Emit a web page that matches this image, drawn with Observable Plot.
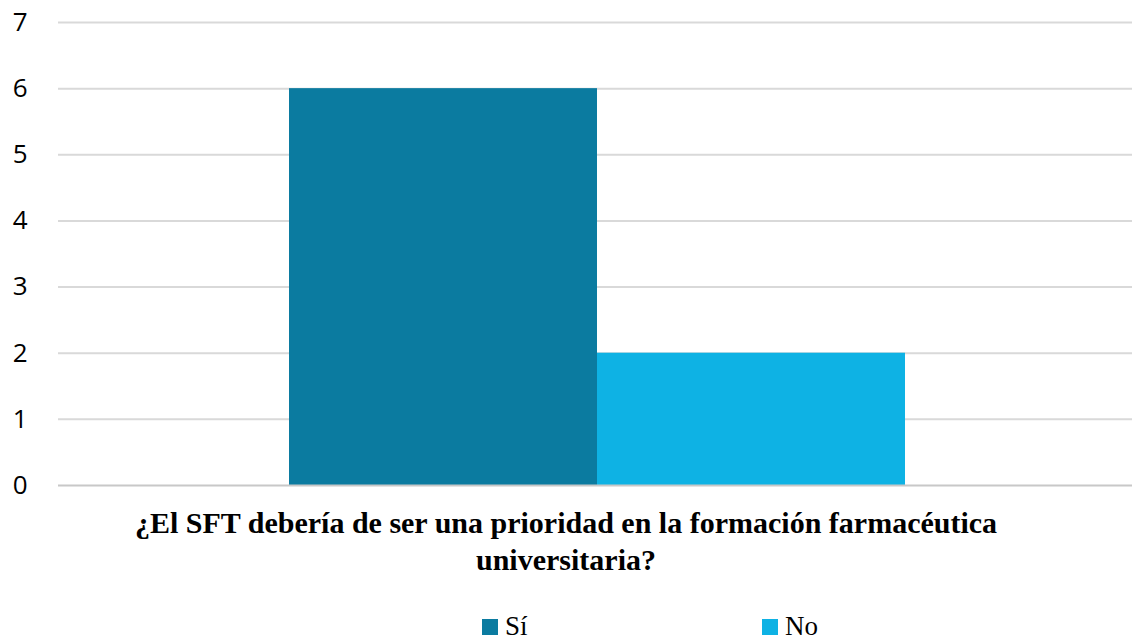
<!DOCTYPE html>
<html>
<head>
<meta charset="utf-8">
<script src="https://cdn.jsdelivr.net/npm/d3@7"></script>
<script src="https://cdn.jsdelivr.net/npm/@observablehq/plot@0.6"></script>
<style>
  html, body { margin: 0; padding: 0; background: #fff; }
  #wrap { position: relative; width: 1132px; height: 640px; overflow: hidden; }
  #chart { position: absolute; left: 0; top: 0; }
  #title { position: absolute; left: 0; top: 504px; width: 1132px; text-align: center;
    font-family: "Liberation Serif", "Times New Roman", serif; font-weight: bold;
    font-size: 30px; line-height: 37px; color: #000; }
  #legend { position: absolute; left: 482px; top: 614px; display: flex;
    font-family: "Liberation Serif", "Times New Roman", serif; font-size: 27px; line-height: 24px; color: #000; }
  .item { display: flex; align-items: center; width: 280px; height: 24px; }
  .sw { width: 16px; height: 16px; margin-right: 7px; margin-top: 2px; }
</style>
</head>
<body>
<div id="wrap">
  <div id="chart"></div>
  <div id="title"></div>
  <div id="legend"></div>
</div>
<script>
const categories = ["Sí", "No"];
const values = [6, 2];
const colors = ["#0B7BA0", "#0EB2E4"];
const yTicks = [0, 1, 2, 3, 4, 5, 6, 7];
const titleLines = ["¿El SFT debería de ser una prioridad en la formación farmacéutica", "universitaria?"];

const data = categories.map((c, i) => ({cat: c, value: values[i]}));

const chart = Plot.plot({
  width: 1132,
  height: 504,
  marginLeft: 58,
  marginRight: 0,
  marginTop: 22,
  marginBottom: 19,
  style: {fontFamily: "'Open Sans', sans-serif", background: "transparent"},
  x: {domain: categories, paddingInner: 0, paddingOuter: 0.74, align: 0.5044, axis: null},
  y: {domain: [0, 7], ticks: yTicks, label: null},
  color: {domain: categories, range: colors},
  marks: [
    Plot.ruleY(yTicks.filter(t => t > 0), {stroke: "#d9d9d9", strokeWidth: 2}),
    Plot.barY(data, {x: "cat", y: "value", fill: "cat", inset: 0}),
    Plot.ruleY([0], {stroke: "#c8c8c8", strokeWidth: 2}),
    Plot.axisY({ticks: yTicks, tickFormat: "d", tickSize: 0, tickPadding: 31, fontSize: 26, fill: "#000", label: null, textAnchor: "end"})
  ]
});
document.getElementById("chart").appendChild(chart);

const title = document.getElementById("title");
titleLines.forEach(l => { const d = document.createElement("div"); d.textContent = l; title.appendChild(d); });

const legend = document.getElementById("legend");
categories.forEach((c, i) => {
  const it = document.createElement("div"); it.className = "item";
  const sw = document.createElement("span"); sw.className = "sw"; sw.style.background = colors[i];
  const tx = document.createElement("span"); tx.textContent = c;
  it.appendChild(sw); it.appendChild(tx); legend.appendChild(it);
});
</script>
</body>
</html>
